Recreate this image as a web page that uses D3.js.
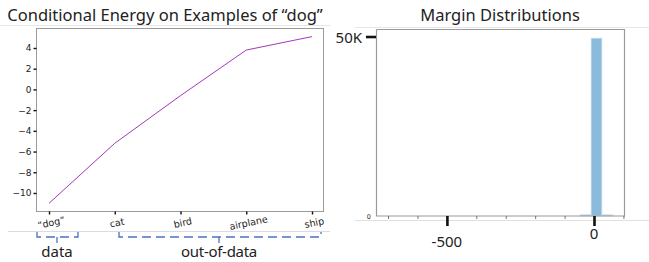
<!DOCTYPE html>
<html>
<head>
<meta charset="utf-8">
<script src="https://cdn.jsdelivr.net/npm/d3@7"></script>
<style>
  body { margin: 0; background: #fff; }
  svg { display: block; }
</style>
</head>
<body>
<script>
// left panel data
var categories = ["\u201cdog\u201d", "cat", "bird", "airplane", "ship"];
var energy = [-11.0, -5.2, -0.6, 3.8, 5.1];
var energyTicks = [-10, -8, -6, -4, -2, 0, 2, 4];

// right panel data (histogram bins)
var binStart = [-47, -10, 27];
var binEnd = [-10, 27, 64];
var binCounts = [400, 49700, 350];
var marginMajorTicks = [-500, 0];
var marginMinorTicks = [-700, -600, -500, -400, -300, -200, -100, 0, 100];

var width = 649, height = 262;
var svg = d3.select("body").append("svg")
  .attr("width", width)
  .attr("height", height);

var titleFont = "'Noto Sans', 'Open Sans', sans-serif";
var tickFont = "'DejaVu Sans', sans-serif";

/* ---------- left: conditional energy ---------- */
var L = { left: 36, right: 323, top: 28, bottom: 211 };
var x1 = d3.scalePoint().domain(categories).range([49, 312]);
var y1 = d3.scaleLinear().domain([-11.74, 5.93]).range([L.bottom, L.top]);

// thin grey separators
svg.append("line").attr("x1", 0).attr("x2", 330).attr("y1", 25.5).attr("y2", 25.5)
  .attr("stroke", "#e6e6e6");
svg.append("line").attr("x1", 8).attr("x2", 330).attr("y1", 231.5).attr("y2", 231.5)
  .attr("stroke", "#d8dce6");

svg.append("text")
  .attr("x", 165).attr("y", 21)
  .attr("text-anchor", "middle")
  .style("font-family", titleFont).style("font-size", "16.5px").style("fill", "#222")
  .text("Conditional Energy on Examples of \u201cdog\u201d");

svg.append("rect")
  .attr("x", L.left + 0.5).attr("y", L.top + 0.5)
  .attr("width", L.right - L.left).attr("height", L.bottom - L.top)
  .attr("fill", "none").attr("stroke", "#9a9a9a");

var yAxis1 = svg.append("g")
  .attr("transform", "translate(" + (L.left + 0.5) + ",0)")
  .call(d3.axisLeft(y1).tickValues(energyTicks).tickSize(3).tickPadding(2)
    .tickFormat(function(d) { return d < 0 ? "\u2212" + (-d) : d; }));
yAxis1.select(".domain").remove();
yAxis1.selectAll("line").attr("stroke", "#111").attr("stroke-width", 1.4);
yAxis1.selectAll("text").style("font-family", tickFont).style("font-size", "9px").style("fill", "#222");

var xAxis1 = svg.append("g")
  .attr("transform", "translate(0," + (L.bottom + 0.5) + ")")
  .call(d3.axisBottom(x1).tickSize(3).tickPadding(2));
xAxis1.select(".domain").remove();
xAxis1.selectAll("line").attr("stroke", "#111").attr("stroke-width", 1.4);
xAxis1.selectAll("text")
  .style("font-family", tickFont).style("font-size", "9.5px").style("fill", "#222")
  .attr("text-anchor", "middle")
  .attr("transform", "translate(0,3) rotate(-12)");

var line = d3.line()
  .x(function(d, i) { return x1(categories[i]); })
  .y(function(d) { return y1(d); });
svg.append("path")
  .datum(energy)
  .attr("d", line)
  .attr("fill", "none")
  .attr("stroke", "#a23ab5")
  .attr("stroke-width", 1);

// brackets
var brackets = [
  { label: "data", x0: 37, x1: 78, mid: 57 },
  { label: "out-of-data", x0: 119, x1: 321, mid: 219 }
];
var bracketColor = "#4a72c4";
brackets.forEach(function(b) {
  svg.append("path")
    .attr("d", "M" + b.x0 + ",232 L" + b.x0 + ",237 L" + b.x1 + ",237 L" + b.x1 + ",232")
    .attr("fill", "none").attr("stroke", bracketColor).attr("stroke-width", 1.3)
    .attr("stroke-dasharray", "9,5");
  svg.append("line")
    .attr("x1", b.mid).attr("x2", b.mid).attr("y1", 237).attr("y2", 243)
    .attr("stroke", bracketColor).attr("stroke-width", 1.3);
  svg.append("text")
    .attr("x", b.mid).attr("y", 257)
    .attr("text-anchor", "middle")
    .style("font-family", titleFont).style("font-size", "15px").style("fill", "#222")
    .style("letter-spacing", b.label.length > 5 ? "-0.3px" : "0px")
    .text(b.label);
});

/* ---------- right: margin distributions ---------- */
var R = { left: 376, right: 624, top: 29.5, bottom: 216 };
var x2 = d3.scaleLinear().domain([-741, 102]).range([R.left, R.right]);
var y2 = d3.scaleLinear().domain([0, 52100]).range([R.bottom, R.top]);

svg.append("line").attr("x1", 355).attr("x2", 649).attr("y1", 27.5).attr("y2", 27.5)
  .attr("stroke", "#e6e6e6");
svg.append("line").attr("x1", 355).attr("x2", 649).attr("y1", 220.5).attr("y2", 220.5)
  .attr("stroke", "#e0e0e0");

svg.append("text")
  .attr("x", 500).attr("y", 21)
  .attr("text-anchor", "middle")
  .style("font-family", titleFont).style("font-size", "16.5px").style("fill", "#222")
  .text("Margin Distributions");

svg.selectAll(".bin")
  .data(binCounts)
  .enter()
  .append("rect")
  .attr("class", "bin")
  .attr("x", function(d, i) { return x2(binStart[i]); })
  .attr("width", function(d, i) { return x2(binEnd[i]) - x2(binStart[i]); })
  .attr("y", function(d) { return y2(d); })
  .attr("height", function(d) { return R.bottom - y2(d); })
  .attr("fill", "#8cbadc")
  .attr("stroke", "#d7e7f3")
  .attr("stroke-width", 0.8);

// frame: left, right and bottom spines
svg.append("path")
  .attr("d", "M" + (R.left + 0.5) + "," + R.top + " L" + (R.left + 0.5) + "," + R.bottom +
    " L" + (R.right + 0.5) + "," + R.bottom + " L" + (R.right + 0.5) + "," + R.top +
    " L" + (R.left + 0.5) + "," + R.top)
  .attr("fill", "none").attr("stroke", "#9a9a9a").attr("stroke-width", 1.2);

// minor ticks
var minor = svg.append("g")
  .attr("transform", "translate(0," + R.bottom + ")")
  .call(d3.axisBottom(x2).tickValues(marginMinorTicks).tickSize(3).tickFormat(""));
minor.select(".domain").remove();
minor.selectAll("line").attr("stroke", "#555").attr("stroke-width", 0.8);

// major ticks
var major = svg.append("g")
  .attr("transform", "translate(0," + R.bottom + ")")
  .call(d3.axisBottom(x2).tickValues(marginMajorTicks).tickSize(10).tickFormat(""));
major.select(".domain").remove();
major.selectAll("line").attr("stroke", "#111").attr("stroke-width", 2.6);

svg.append("text")
  .attr("x", x2(-500)).attr("y", 247)
  .attr("text-anchor", "middle")
  .style("font-family", titleFont).style("font-size", "15px").style("fill", "#222")
  .text("-500");
svg.append("text")
  .attr("x", x2(0)).attr("y", 238.5)
  .attr("text-anchor", "middle")
  .style("font-family", titleFont).style("font-size", "15px").style("fill", "#222")
  .text("0");

// y ticks
svg.append("line")
  .attr("x1", 366).attr("x2", R.left).attr("y1", y2(50000)).attr("y2", y2(50000))
  .attr("stroke", "#111").attr("stroke-width", 2.6);
svg.append("text")
  .attr("x", 362).attr("y", y2(50000) + 5.5)
  .attr("text-anchor", "end")
  .style("font-family", titleFont).style("font-size", "15px").style("fill", "#222")
  .text("50K");
svg.append("text")
  .attr("x", 371).attr("y", y2(0) + 2.5)
  .attr("text-anchor", "end")
  .style("font-family", tickFont).style("font-size", "6.5px").style("fill", "#333")
  .text("0");
</script>
</body>
</html>
